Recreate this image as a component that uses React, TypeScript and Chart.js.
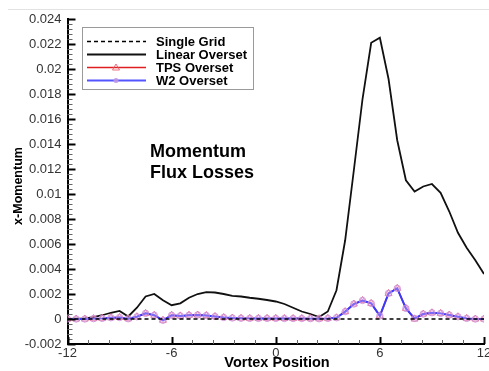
import React, { useEffect, useRef } from "react";
import { Chart, registerables } from "chart.js";

Chart.register(...registerables);

// ---- data ----
const positions = [
  -12, -11.5, -11, -10.5, -10, -9.5, -9, -8.5, -8, -7.5, -7, -6.5, -6, -5.5, -5, -4.5, -4, -3.5, -3, -2.5,
  -2, -1.5, -1, -0.5, 0, 0.5, 1, 1.5, 2, 2.5, 3, 3.5, 4, 4.5, 5, 5.5, 6, 6.5, 7, 7.5, 8, 8.5, 9, 9.5, 10,
  10.5, 11, 11.5, 12,
];
const singleGridX = [-12, 12];
const singleGrid = [0, 0];
const linearOverset = [
  0, 0.00002, 0.00005, 0.00015, 0.0003, 0.0005, 0.00065, 0.0002, 0.0009, 0.0018, 0.002, 0.0015, 0.0011,
  0.00125, 0.0017, 0.002, 0.00215, 0.00212, 0.002, 0.00185, 0.0018, 0.0017, 0.00162, 0.00152, 0.0014,
  0.0012, 0.0009, 0.0006, 0.0004, 0.00015, 0.0006, 0.0023, 0.0063, 0.0119, 0.0176, 0.0221, 0.0225, 0.0192,
  0.0143, 0.0111, 0.0102, 0.0106, 0.0108, 0.0101, 0.0086, 0.0069, 0.0057, 0.0047, 0.0036,
];
const tpsOverset = [
  0, 0, 0, 0.00003, 0.00005, 0.0001, 0.00012, 0.00002, 0.00018, 0.00045, 0.0003, -0.0001, 0.0003, 0.00025,
  0.0003, 0.00032, 0.00028, 0.0002, 0.00012, 0.00008, 0.00006, 0.00005, 0.00005, 0.00005, 0.00005,
  0.00004, 0.00004, 0.00004, 0.00003, 0.00002, 0.00005, 0.0001, 0.00059, 0.0012, 0.00148, 0.00125,
  0.00025, 0.00205, 0.00245, 0.00085, 0.0, 0.0004, 0.0005, 0.00045, 0.00032, 0.00018, 0.00005, 0, 0,
];
const w2Overset = [
  0, 0, 0, 0.00003, 0.00005, 0.0001, 0.00012, 0.00002, 0.00018, 0.00045, 0.0003, -0.0001, 0.0003, 0.00025,
  0.0003, 0.00032, 0.00028, 0.0002, 0.00012, 0.00008, 0.00006, 0.00005, 0.00005, 0.00005, 0.00005,
  0.00004, 0.00004, 0.00004, 0.00003, 0.00002, 0.00005, 0.0001, 0.00059, 0.0012, 0.00148, 0.00125,
  0.00025, 0.00205, 0.00245, 0.00085, 0.00005, 0.0004, 0.0005, 0.00045, 0.00032, 0.00018, 0.00005, 0, 0,
];
const seriesNames = ["Single Grid", "Linear Overset", "TPS Overset", "W2 Overset"];
const xTickValues = [-12, -6, 0, 6, 12];
const yTickValues = [-0.002, 0, 0.002, 0.004, 0.006, 0.008, 0.01, 0.012, 0.014, 0.016, 0.018, 0.02, 0.022, 0.024];
const xMinorStep = 1.2;
const yMinorStep = 0.0004;
const axisTitleX = "Vortex Position";
const axisTitleY = "x-Momentum";
const noteLines = ["Momentum", "Flux Losses"];

const FONT = '"Liberation Sans", Arial, Helvetica, sans-serif';

const toPts = (xs: number[], ys: number[]) => xs.map((x, i) => ({ x, y: ys[i] }));

export default function App() {
  const ref = useRef<HTMLCanvasElement | null>(null);

  useEffect(() => {
    const canvas = ref.current;
    if (!canvas) return;

    const decor = {
      id: "decor",
      beforeDraw(chart: any) {
        const ctx = chart.ctx;
        ctx.save();
        ctx.fillStyle = "#ffffff";
        ctx.fillRect(0, 0, chart.width, chart.height);
        ctx.strokeStyle = "#e2e2e2";
        ctx.lineWidth = 1;
        ctx.beginPath();
        ctx.moveTo(8, 9.5);
        ctx.lineTo(chart.width, 9.5);
        ctx.stroke();
        ctx.restore();
      },
      afterDraw(chart: any) {
        const ctx = chart.ctx;
        const xs = chart.scales.x;
        const ys = chart.scales.y;
        const area = chart.chartArea;
        ctx.save();
        // inward ticks on y
        const y0 = yTickValues[0];
        const y1 = yTickValues[yTickValues.length - 1];
        const nY = Math.round((y1 - y0) / yMinorStep);
        for (let i = 0; i <= nY; i++) {
          const v = y0 + i * yMinorStep;
          const major = i % 5 === 0;
          const py = Math.round(ys.getPixelForValue(v)) + 0.5;
          ctx.strokeStyle = major ? "#000" : "#666";
          ctx.lineWidth = major ? 2 : 1;
          ctx.beginPath();
          ctx.moveTo(area.left, py);
          ctx.lineTo(area.left + (major ? 8 : 5), py);
          ctx.stroke();
        }
        // inward ticks on x
        const x0 = xTickValues[0];
        const x1 = xTickValues[xTickValues.length - 1];
        const nX = Math.round((x1 - x0) / xMinorStep);
        for (let i = 0; i <= nX; i++) {
          const v = x0 + i * xMinorStep;
          const major = i % 5 === 0;
          const px = Math.round(xs.getPixelForValue(v)) + 0.5;
          ctx.strokeStyle = major ? "#000" : "#666";
          ctx.lineWidth = major ? 2 : 1;
          ctx.beginPath();
          ctx.moveTo(px, area.bottom);
          ctx.lineTo(px, area.bottom - (major ? 7 : 4));
          ctx.stroke();
        }
        // axis titles
        ctx.fillStyle = "#000";
        ctx.font = `bold 14.5px ${FONT}`;
        ctx.textAlign = "center";
        ctx.textBaseline = "alphabetic";
        ctx.fillText(axisTitleX, 277, 367);
        ctx.save();
        ctx.translate(22, 186);
        ctx.rotate(-Math.PI / 2);
        ctx.font = `bold 12.5px ${FONT}`;
        ctx.fillText(axisTitleY, 0, 0);
        ctx.restore();
        // annotation
        ctx.textAlign = "left";
        ctx.font = `bold 18px ${FONT}`;
        ctx.fillText(noteLines[0], 150, 157);
        ctx.fillText(noteLines[1], 150, 178);
        // legend
        const lx = 82.5, ly = 27.5, lw = 171, lh = 62;
        ctx.fillStyle = "#fff";
        ctx.fillRect(lx, ly, lw, lh);
        ctx.strokeStyle = "#9a9a9a";
        ctx.lineWidth = 1;
        ctx.strokeRect(lx, ly, lw, lh);
        const rows = [41.5, 54.5, 67.5, 80.5];
        const styles = [
          { c: "#000", w: 1.5, dash: [4, 3] },
          { c: "#111", w: 1.8, dash: [] },
          { c: "#e02020", w: 1.5, dash: [] },
          { c: "#5555ff", w: 2, dash: [] },
        ];
        rows.forEach((ry, i) => {
          const s = styles[i];
          ctx.strokeStyle = s.c;
          ctx.lineWidth = s.w;
          ctx.setLineDash(s.dash);
          ctx.beginPath();
          ctx.moveTo(87, ry);
          ctx.lineTo(146, ry);
          ctx.stroke();
          ctx.setLineDash([]);
          if (i === 2) {
            ctx.strokeStyle = "rgba(230,90,110,0.85)";
            ctx.lineWidth = 1;
            ctx.beginPath();
            ctx.moveTo(116, ry - 3.5);
            ctx.lineTo(119.5, ry + 2.5);
            ctx.lineTo(112.5, ry + 2.5);
            ctx.closePath();
            ctx.stroke();
          }
          if (i === 3) {
            ctx.fillStyle = "rgba(190,150,230,0.9)";
            ctx.beginPath();
            ctx.arc(116, ry, 2.5, 0, Math.PI * 2);
            ctx.fill();
          }
          ctx.fillStyle = "#000";
          ctx.font = `bold 13px ${FONT}`;
          ctx.textAlign = "left";
          ctx.textBaseline = "middle";
          ctx.fillText(seriesNames[i], 156, ry + 0.5);
        });
        ctx.restore();
      },
    };

    const chart = new Chart(canvas, {
      type: "line",
      data: {
        datasets: [
          {
            label: seriesNames[0],
            data: toPts(singleGridX, singleGrid),
            borderColor: "#000",
            borderWidth: 1.6,
            borderDash: [4, 3],
            pointRadius: 0,
            order: 0,
          },
          {
            label: seriesNames[1],
            data: toPts(positions, linearOverset),
            borderColor: "#111",
            borderWidth: 1.8,
            pointRadius: 0,
            order: 3,
          },
          {
            label: seriesNames[2],
            data: toPts(positions, tpsOverset),
            borderColor: "#e02020",
            borderWidth: 1.5,
            pointStyle: "triangle",
            pointRadius: 4,
            pointBorderWidth: 1,
            pointBorderColor: "rgba(230,90,120,0.8)",
            pointBackgroundColor: "rgba(0,0,0,0)",
            order: 2,
          },
          {
            label: seriesNames[3],
            data: toPts(positions, w2Overset),
            borderColor: "#3a3aff",
            borderWidth: 2,
            pointStyle: "circle",
            pointRadius: 3.2,
            pointBorderWidth: 1,
            pointBorderColor: "rgba(205,140,215,0.85)",
            pointBackgroundColor: "rgba(225,180,240,0.4)",
            order: 1,
          },
        ],
      },
      options: {
        animation: false,
        responsive: false,
        maintainAspectRatio: false,
        events: [],
        layout: { padding: { left: 0, right: 3.5, top: 19, bottom: 0 } },
        plugins: { legend: { display: false }, tooltip: { enabled: false } },
        scales: {
          x: {
            type: "linear",
            min: -12,
            max: 12,
            afterFit: (s: any) => {
              s.height = 27;
              s.paddingLeft = 0;
              s.paddingRight = 0;
            },
            afterBuildTicks: (s: any) => {
              s.ticks = xTickValues.map((v) => ({ value: v }));
            },
            grid: { display: false, drawTicks: false },
            border: { display: true, color: "#000", width: 2 },
            ticks: {
              color: "#333",
              font: { family: FONT, size: 13 },
              padding: 2,
              maxRotation: 0,
              autoSkip: false,
              callback: (v: any) => String(v),
            },
          },
          y: {
            type: "linear",
            min: -0.002,
            max: 0.024,
            afterFit: (s: any) => {
              s.width = 67.5;
              s.paddingTop = 0;
              s.paddingBottom = 0;
            },
            afterBuildTicks: (s: any) => {
              s.ticks = yTickValues.map((v) => ({ value: v }));
            },
            grid: { display: false, drawTicks: false },
            border: { display: true, color: "#000", width: 2 },
            ticks: {
              color: "#333",
              font: { family: FONT, size: 13 },
              padding: 6,
              autoSkip: false,
              callback: (v: any) => String(Number(Number(v).toFixed(3))),
            },
          },
        },
      },
      plugins: [decor],
    } as any);

    return () => chart.destroy();
  }, []);

  return (
    <div style={{ position: "fixed", left: 0, top: 0, width: 489, height: 371, background: "#fff" }}>
      <canvas ref={ref} width={489} height={371} style={{ display: "block", width: 489, height: 371 }} />
    </div>
  );
}
